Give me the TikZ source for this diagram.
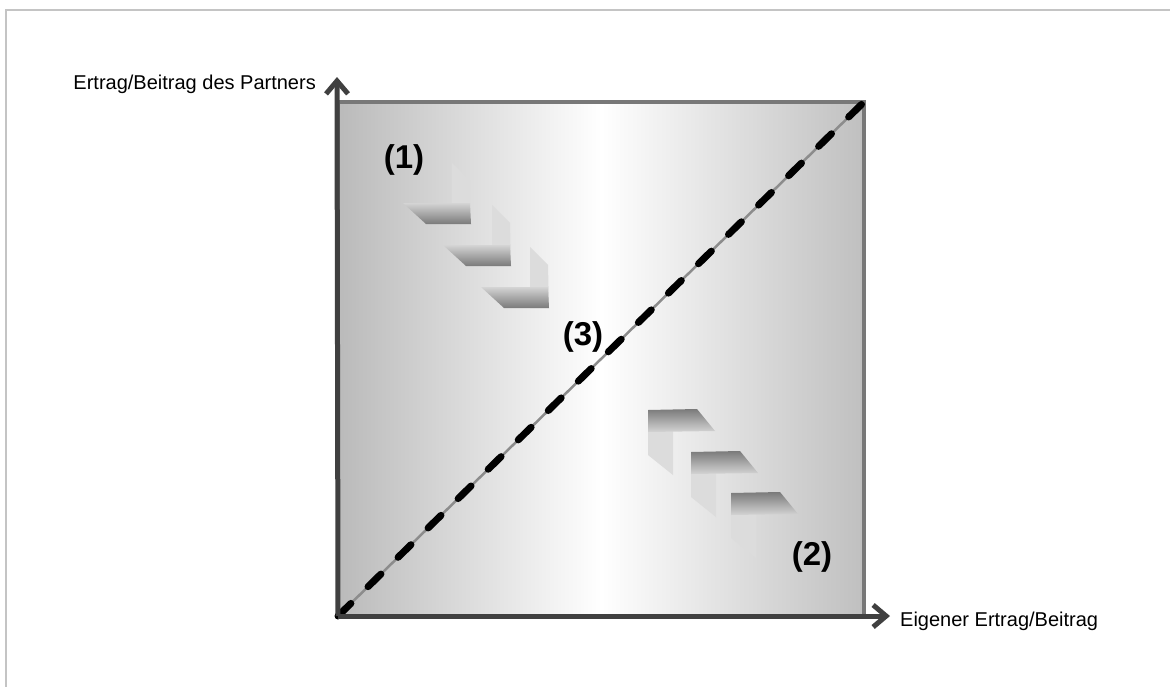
\documentclass[tikz,border=0pt]{standalone}
\usepackage{fontspec}
\setmainfont{Liberation Sans}
\usetikzlibrary{arrows.meta}
\definecolor{frameg}{HTML}{C4C4C4}
\definecolor{sqedge}{HTML}{BABABA}
\definecolor{sqborder}{HTML}{787878}
\definecolor{axisc}{HTML}{404040}
\definecolor{diagg}{HTML}{8C8C8C}
\definecolor{facelight}{HTML}{D4D4D4}
\definecolor{facedark}{HTML}{7A7A7A}
\definecolor{sidec}{HTML}{DCDCDC}
\tikzset{
  axisline/.style={draw=axisc, line width=5pt, -{Straight Barb[length=13pt,width=22pt]}},
  axislabel/.style={font=\fontsize{20}{24}\selectfont, inner sep=0pt, text=black},
  numlabel/.style={font=\fontsize{33}{36}\selectfont\bfseries, inner sep=0pt, text=black},
  sideface/.style={fill=sidec},
  stepdown/.pic={
    \fill[sideface] (49,-40) -- (67,-22) -- (68,21) -- (49,21) -- cycle;
    \shade[top color=facelight, bottom color=facedark] (0,0) -- (67,0) -- (68,21) -- (23,21) -- cycle;
  },
  stepup/.pic={
    \fill[sideface] (0,20) -- (25,20) -- (25,65) -- (0,45) -- cycle;
    \shade[top color=facedark, bottom color=facelight] (0,0) -- (49,-1) -- (67,21) -- (0,22) -- cycle;
  }
}
\begin{document}
\begin{tikzpicture}[x=1pt,y=-1pt]
\useasboundingbox (0,0) rectangle (1170,686);
% outer frame (top and left edges visible)
\draw[frameg, line width=2pt] (6,700) -- (6,10) -- (1180,10);
% square
\coordinate (O) at (338,616);
\coordinate (TL) at (338,102);
\coordinate (TR) at (864,102);
\coordinate (BR) at (864,616);
\shade[left color=sqedge, right color=sqedge!92!white, middle color=white] (O) rectangle (TR);
\draw[sqborder, line width=4pt] (O) -- (TL) -- (TR) -- (BR) -- cycle;
% diagonal
\draw[diagg, line width=2.5pt] (O) -- (TR);
\draw[black, line width=7pt, line cap=round, dash pattern=on 18pt off 24pt] (O) -- (TR);
% axes
\coordinate (xend) at (890,616);
\coordinate (yend) at (337,77);
\draw[axisline] (O) -- (xend);
\draw[axisline] (O) -- (yend);
% 3D steps
\pic at (403,203) {stepdown};
\pic at (443,245) {stepdown};
\pic at (481,287) {stepdown};
\pic at (648,410) {stepup};
\pic at (691,452) {stepup};
\pic at (731,493) {stepup};
% labels
\node[axislabel, anchor=east] (ylab) at (316,84) {Ertrag/Beitrag des Partners};
\node[axislabel, anchor=west] (xlab) at (900,621) {Eigener Ertrag/Beitrag};
\node[numlabel] (n1) at (404,160) {(1)};
\node[numlabel] (n2) at (812,557) {(2)};
\node[numlabel] (n3) at (583,337) {(3)};
\end{tikzpicture}
\end{document}
